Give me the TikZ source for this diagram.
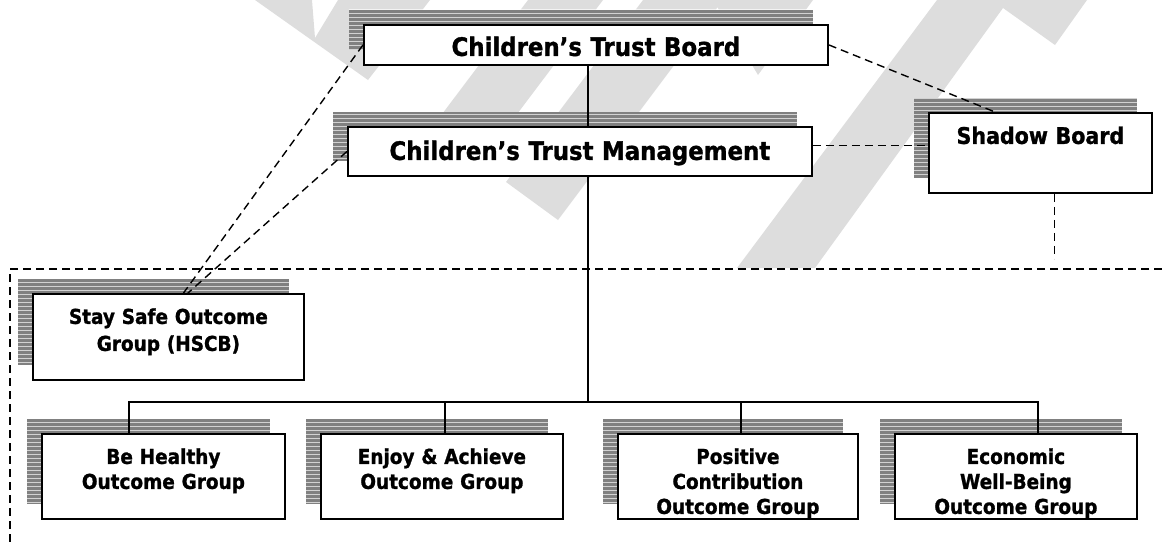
\documentclass[tikz,border=0pt]{standalone}
\usepackage{fontspec}
\setmainfont{DejaVu Sans}[FakeStretch=0.9, BoldFeatures={FakeBold=1.2}]
\usetikzlibrary{patterns}

\definecolor{wmgrey}{RGB}{221,221,221}
\definecolor{shadowgrey}{RGB}{128,128,128}
\pgfdeclarepatternformonly{shadowgaps}{\pgfpointorigin}{\pgfpoint{1pt}{4pt}}{\pgfpoint{1pt}{4pt}}{%
  \pgfpathrectangle{\pgfpointorigin}{\pgfpoint{1pt}{1pt}}\pgfusepath{fill}}

\newcommand{\bigfont}{\bfseries\fontsize{25.4}{30}\selectfont}
\newcommand{\midfont}{\bfseries\fontsize{22.9}{27}\selectfont}
\newcommand{\smallfont}{\bfseries\fontsize{20.5}{25}\selectfont}

\tikzset{
  orgbox/.style={draw, line width=1.8pt, fill=white, inner sep=0pt, align=center, anchor=north west,
    preaction={draw=none, fill=shadowgrey, transform canvas={shift={(-15pt,15pt)}}},
    preaction={draw=none, pattern=shadowgaps, pattern color=white, transform canvas={shift={(-15pt,15pt)}}}},
  grpbox/.style={orgbox, text height=30pt, text depth=55pt, font=\smallfont},
  conn/.style={line width=1.6pt},
  link/.style={line width=1.4pt, dash pattern=on 8pt off 5pt},
}

\begin{document}
\begin{tikzpicture}[x=1pt, y=-1pt]
  \useasboundingbox (0,0) rectangle (1162,542);

  % Watermark stripes
  \fill[wmgrey] (255,0) -- (312,0) -- (315,38) -- (338,0) -- (430,0) -- (368,80) -- cycle;
  \fill[wmgrey] (528,0) -- (603,0) -- (490,150) -- (415,150) -- cycle;
  \fill[wmgrey] (643,0) -- (723,0) -- (588,180) -- (558,220) -- (506,182) -- cycle;
  \fill[wmgrey] (713,0) -- (813,0) -- (758,75) -- cycle;
  \fill[wmgrey] (937,0) -- (1087,0) -- (1055,45) -- (1003,8) -- (815,268) -- (737,268) -- cycle;

  % Frame of the outcome groups
  \draw[link] (1162,269) -| (10,542);

  % Boards
  \node[orgbox, text width=464pt, text height=31pt, text depth=9pt, font=\bigfont] (board) at (363,24) {Children’s Trust Board};
  \node[orgbox, text width=464pt, text height=33pt, text depth=16pt, font=\bigfont] (mgmt) at (347,126) {Children’s Trust Management};
  \node[orgbox, text width=223pt, text height=31pt, text depth=49pt, font=\midfont] (sboard) at (928,112) {Shadow Board};

  % Outcome groups
  \node[orgbox, text width=271pt, text height=30pt, text depth=56pt, font=\bfseries\fontsize{20.5}{27}\selectfont] (ssafe) at (32,293) {Stay Safe Outcome\\Group (HSCB)};
  \node[grpbox, text width=243pt] (bh) at (41,433) {Be Healthy\\Outcome Group};
  \node[grpbox, text width=242pt] (ea) at (320,433) {Enjoy \& Achieve\\Outcome Group};
  \node[grpbox, text width=240pt] (pc) at (617,433) {Positive\\Contribution\\Outcome Group};
  \node[grpbox, text width=242pt] (ew) at (894,433) {Economic\\Well-Being\\Outcome Group};

  % Line management
  \coordinate (hub) at (588,402);
  \draw[conn] (board.south -| hub) -- (mgmt.north -| hub);
  \draw[conn] (mgmt.south -| hub) -- (hub);
  \draw[conn] ([xshift=88pt]bh.north west) -- ++(0,-31) -| ([xshift=144pt]ew.north west);
  \draw[conn] ([xshift=125pt]ea.north west) -- ++(0,-31);
  \draw[conn] ([xshift=124pt]pc.north west) -- ++(0,-31);

  % Dashed links
  \draw[link] (board.west) -- (ssafe.71);
  \draw[link] (mgmt.west) -- (ssafe.66);
  \draw[link] (board.east) -- (sboard.138);
  \draw[link] ([yshift=6pt]mgmt.east) -- ([yshift=6pt]mgmt.east -| sboard.west);
  \draw[link] ([xshift=14pt]sboard.south) -- ++(0,65);
\end{tikzpicture}
\end{document}
